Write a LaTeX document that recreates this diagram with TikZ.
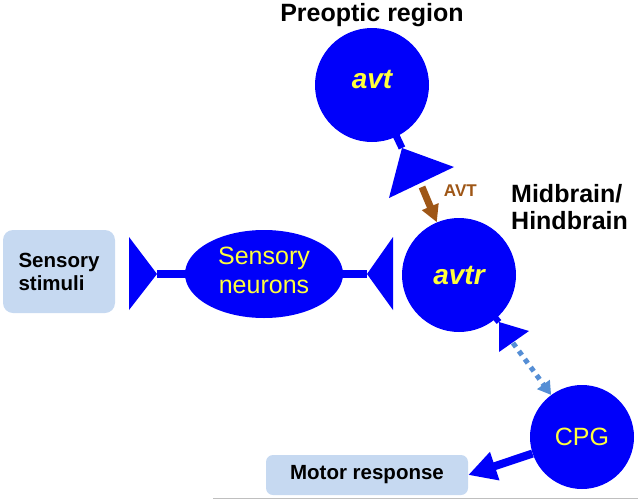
\documentclass[tikz,border=0pt]{standalone}
\usepackage{fontspec}
\setmainfont{Liberation Sans}
\usetikzlibrary{arrows.meta,positioning,shapes.geometric}

\definecolor{nblue}{RGB}{0,0,250}
\definecolor{nyellow}{RGB}{255,255,60}
\definecolor{boxblue}{RGB}{198,217,241}
\definecolor{avtbrown}{RGB}{158,86,22}
\definecolor{dotblue}{RGB}{85,142,213}

\begin{document}
\begin{tikzpicture}[x=1pt,y=-1pt,
		neuron/.style={circle,fill=nblue,text=nyellow,inner sep=0pt},
		gene/.style={font=\bfseries\itshape\fontsize{28}{30}\selectfont},
		cell/.style={font=\fontsize{25}{29}\selectfont},
		region/.style={font=\bfseries\fontsize{25}{27}\selectfont,inner sep=0pt},
		place/.style={rectangle,rounded corners=10pt,fill=boxblue,align=left,
			font=\bfseries\fontsize{20.5}{23}\selectfont},
		stem/.style={draw=nblue,line width=8pt,shorten <=-5pt},
		terminal/.style={fill=nblue},
		marrow/.style={-{Triangle[length=17pt,width=17pt]},line width=7pt}]
		\useasboundingbox (0,0) rectangle (638,499);

		% neurons
		\node [neuron,gene,minimum size=114pt,text depth=12pt] (avt) at (372,85) {avt};
		\node [neuron,gene,minimum size=114pt] (avtr) at (459,275) {avtr};
		\node [neuron,cell,ellipse,minimum width=158pt,minimum height=88pt,
			align=center,text depth=8pt] (sensory) at (264,274) {Sensory\\neurons};
		\node [neuron,cell,minimum size=104pt] (cpg) at (582,437) {CPG};

		% region labels
		\node [region] (preoptic) [above=1pt of avt] {Preoptic region};
		\node [region,align=left,anchor=west] (midbrain) at (511,207) {Midbrain/\\Hindbrain};

		% input and output
		\node [place,minimum width=112pt,minimum height=83pt] (stimuli) at (59,271.5) {Sensory\\stimuli};
		\node [place,minimum width=202pt,minimum height=40pt,rounded corners=7pt] (motor) at (367,475) {Motor response};

		% synaptic terminals
		\coordinate (sensory-in) at (157,274);
		\coordinate (sensory-out) at (367,274);
		\coordinate (avt-term) at (402,148);
		\coordinate (avtr-term) at (499,322);
		\draw [stem] (sensory.west) to (sensory-in);
		\fill [terminal] (sensory-in) -- (129,237) -- (129,310) -- cycle;
		\draw [stem] (sensory.east) to (sensory-out);
		\fill [terminal] (sensory-out) -- (393,237) -- (393,310) -- cycle;
		\draw [stem,line width=7pt] (avt) to (avt-term);
		\fill [terminal] (avt-term) -- (454,167) -- (389,198) -- cycle;
		\draw [stem,line width=6pt] (avtr) to (avtr-term);
		\fill [terminal] (avtr-term) -- (529,331) -- (499,352) -- cycle;

		% release arrows
		\coordinate (avt-release) at (422,187);
		\coordinate (avtr-release) at (513,343);
		\draw [marrow,avtbrown] (avt-release) to node [right=17pt,pos=0.1,inner sep=0pt,
			font=\bfseries\fontsize{17}{19}\selectfont] (avt-peptide) {AVT} (avtr);
		\draw [-{Triangle[length=13pt,width=15pt]},dotblue,line width=5pt,
			dash pattern=on 5pt off 5pt] (avtr-release) to (cpg);
		\draw [marrow,nblue,line width=8pt,-{Triangle[length=28pt,width=28pt]}] (cpg) to (motor.east);

		\draw [black!25,line width=1pt] (213,498) -- (638,498);
	\end{tikzpicture}
\end{document}
